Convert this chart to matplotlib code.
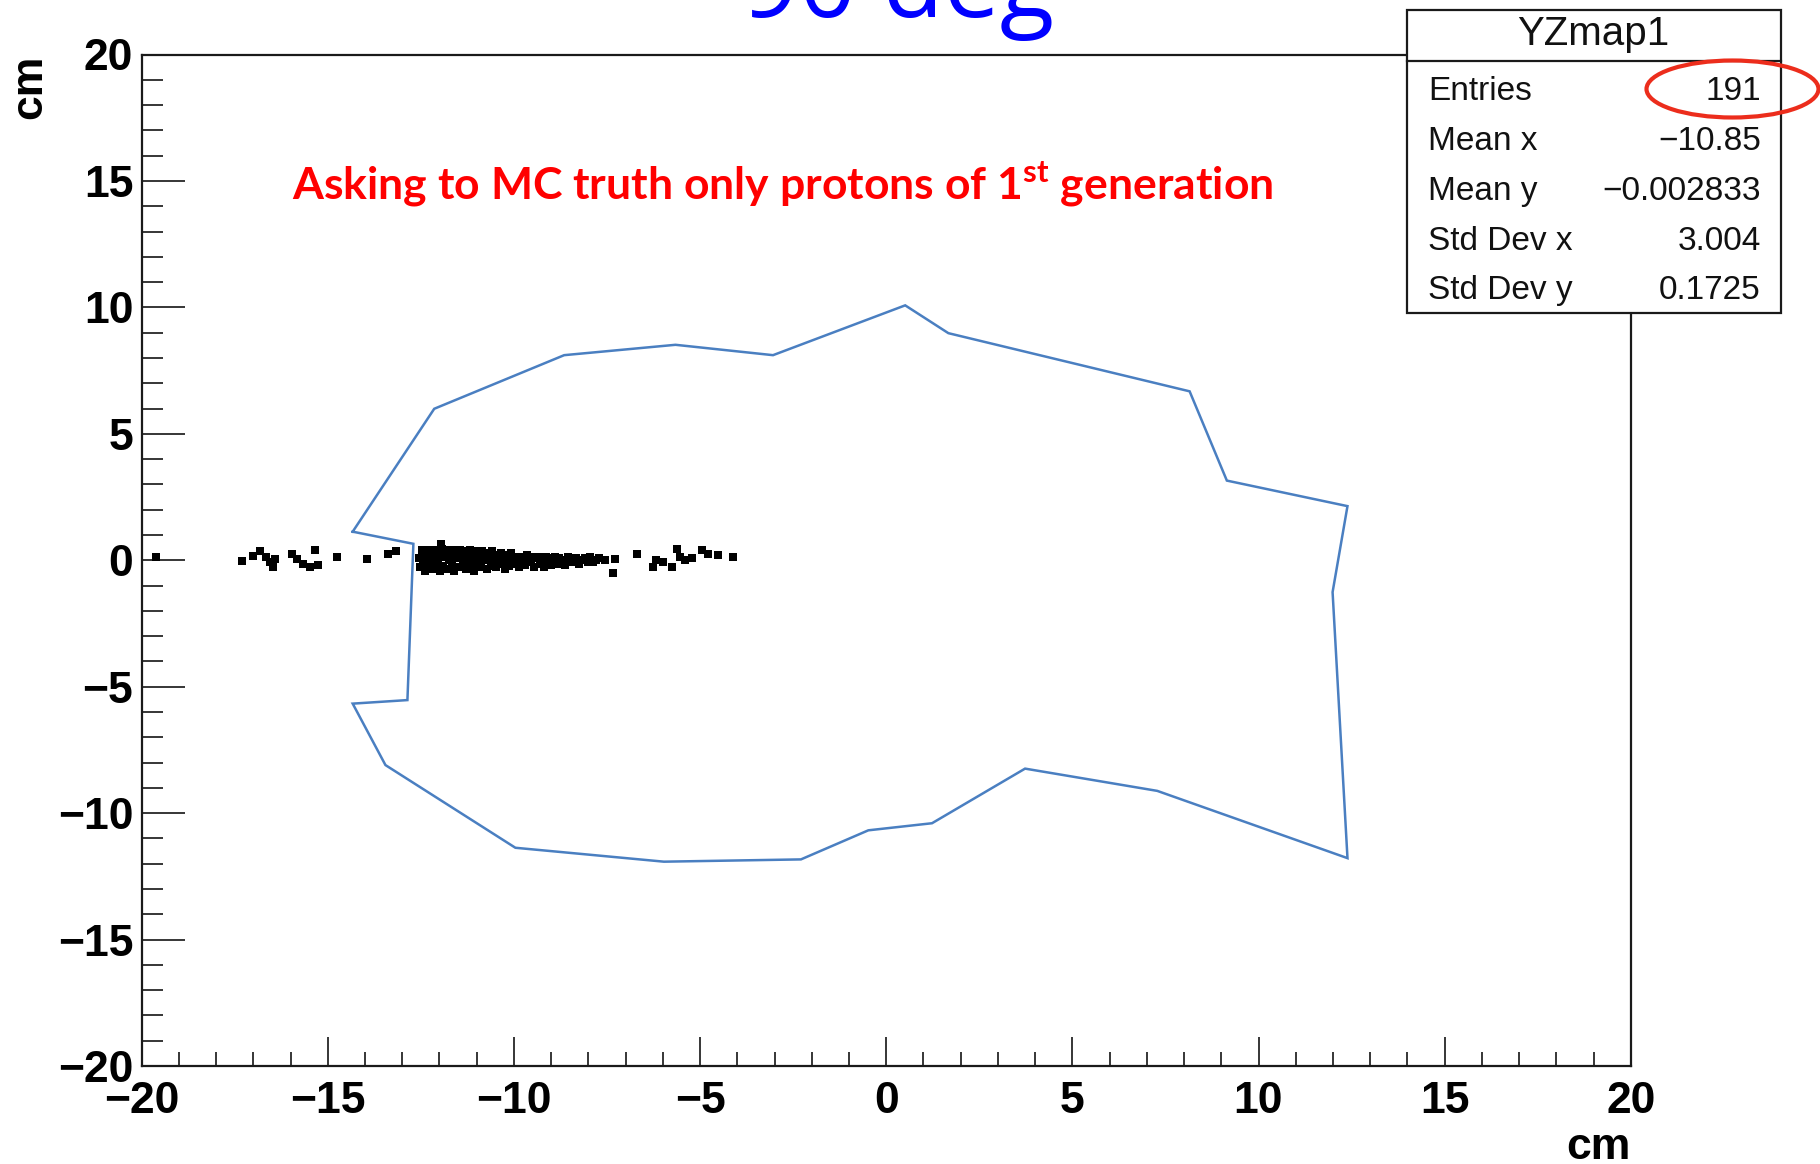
"""YZ 平面质子击中点分布，叠加探测器轮廓与统计信息框。"""
import matplotlib

matplotlib.use("Agg")
import matplotlib.pyplot as plt
from matplotlib.lines import Line2D
from matplotlib.patches import Ellipse, Rectangle
from matplotlib.ticker import MultipleLocator

plt.rcParams["mathtext.fontset"] = "custom"
plt.rcParams["mathtext.rm"] = "Lato:bold"
plt.rcParams["mathtext.bf"] = "Lato:bold"
plt.rcParams["mathtext.it"] = "Lato:bold"

FIG_W, FIG_H = 1820, 1164

# 左侧稀疏击中点 (cm)
left_x = [-19.61, -17.31, -17.00, -16.82, -16.66, -16.55, -16.46, -16.42, -15.97,
          -15.83, -15.66, -15.48, -15.34, -15.25, -14.76, -13.95, -13.37, -13.17]
left_y = [0.13, -0.04, 0.17, 0.35, 0.13, -0.07, -0.27, 0.06, 0.26,
          0.06, -0.13, -0.27, 0.39, -0.20, 0.13, 0.04, 0.26, 0.35]

# 中间密集区
cluster_x = [
    -12.55, -12.52, -12.48, -12.45, -12.42, -12.40, -12.37, -12.33, -12.30, -12.28,
    -12.25, -12.20, -12.18, -12.15, -12.10, -12.07, -12.03, -11.98, -11.96, -11.93,
    -11.90, -11.85, -11.82, -11.78, -11.75, -11.70, -11.66, -11.63, -11.60, -11.55,
    -11.52, -11.48, -11.45, -11.40, -11.37, -11.33, -11.30, -11.25, -11.22, -11.18,
    -11.15, -11.10, -11.07, -11.03, -11.00, -10.95, -10.92, -10.88, -10.85, -10.80,
    -10.77, -10.73, -10.70, -10.65, -10.62, -10.58, -10.55, -10.50, -10.47, -10.43,
    -10.40, -10.35, -10.32, -10.28, -10.25, -10.20, -10.15, -10.12, -10.08, -10.03,
    -10.00, -9.95, -9.90, -9.85, -9.80, -9.76, -9.70, -9.65, -9.60, -9.55,
    -9.50, -9.45, -9.40, -9.35, -9.30, -9.25, -9.20, -9.15, -9.10, -9.05,
    -9.00, -8.95, -8.90, -8.85, -8.80, -8.75, -8.70, -8.62, -8.55, -8.48,
    -8.40, -8.33, -8.25, -8.18, -8.10, -8.02, -7.95, -7.88, -7.80, -7.72,
]
cluster_y = [
    0.07, -0.28, 0.42, -0.07, 0.21, -0.42, 0.14, 0.42, -0.21, 0.00,
    0.35, -0.35, 0.14, 0.42, -0.14, 0.35, 0.07, -0.42, 0.65, 0.45,
    -0.21, 0.14, 0.42, -0.35, 0.00, 0.28, -0.14, 0.42, -0.42, 0.21,
    0.07, -0.28, 0.42, 0.14, -0.07, 0.35, -0.35, 0.21, 0.00, 0.42,
    -0.21, 0.28, -0.42, 0.07, 0.35, -0.14, 0.21, -0.28, 0.35, 0.00,
    0.14, -0.35, 0.28, 0.07, -0.21, 0.35, -0.07, 0.21, -0.28, 0.14,
    0.00, 0.28, -0.14, 0.21, -0.35, 0.07, 0.14, -0.21, 0.28, 0.00,
    -0.13, 0.13, 0.00, -0.26, 0.13, 0.07, -0.20, 0.20, 0.00, -0.07,
    0.13, -0.26, 0.07, 0.13, -0.13, 0.00, -0.26, 0.13, -0.07, 0.07,
    -0.20, 0.00, 0.13, -0.13, 0.07, -0.07, 0.00, -0.20, 0.13, 0.07,
    -0.07, 0.07, -0.13, 0.00, 0.07, -0.07, 0.13, -0.07, 0.00, 0.07,
]

# 右侧稀疏击中点
right_x = [-7.55, -7.33, -7.28, -6.70, -6.26, -6.17, -5.99, -5.76,
           -5.63, -5.54, -5.40, -5.22, -4.96, -4.78, -4.51, -4.11]
right_y = [0.00, -0.49, 0.04, 0.26, -0.27, 0.00, -0.07, -0.27,
           0.46, 0.13, 0.00, 0.09, 0.39, 0.26, 0.19, 0.13]

# 探测器截面轮廓 (cm)
outline_x = [-14.33, -12.70, -12.86, -14.33, -13.45, -9.96, -5.97, -2.29, -0.48, 1.23,
             3.73, 7.28, 12.39, 11.99, 12.39, 9.15, 8.15, 1.67, 0.51, -3.04,
             -5.66, -8.65, -12.14, -14.33]
outline_y = [1.13, 0.65, -5.53, -5.67, -8.10, -11.37, -11.92, -11.83, -10.68, -10.40,
             -8.24, -9.12, -11.78, -1.26, 2.14, 3.15, 6.68, 8.98, 10.08, 8.11,
             8.52, 8.11, 5.99, 1.13]

hist_name = "YZmap1"
stat_names = ["Entries", "Mean x", "Mean y", "Std Dev x", "Std Dev y"]
stat_values = ["191", "\u221210.85", "\u22120.002833", "3.004", "0.1725"]

title_text = "90 deg"
note_text = r"Asking to MC truth only protons of 1$^{\mathrm{st}}$ generation"


def fx(px):
    return px / FIG_W


def fy(py):
    return 1.0 - py / FIG_H


fig = plt.figure(figsize=(FIG_W / 100, FIG_H / 100), dpi=100)
ax = fig.add_axes([fx(141.6), fy(1066.0), fx(1630.8) - fx(141.6), fy(54.5) - fy(1066.0)])

pts_x = left_x + cluster_x + right_x
pts_y = left_y + cluster_y + right_y
ax.scatter(pts_x, pts_y, marker="s", s=32, c="black", linewidths=0, zorder=3)
ax.plot(outline_x, outline_y, color="#4a7fc1", lw=1.8, zorder=2,
        solid_joinstyle="miter")

ax.set_xlim(-20, 20)
ax.set_ylim(-20, 20)
ax.xaxis.set_major_locator(MultipleLocator(5))
ax.xaxis.set_minor_locator(MultipleLocator(1))
ax.yaxis.set_major_locator(MultipleLocator(5))
ax.yaxis.set_minor_locator(MultipleLocator(1))
ax.tick_params(axis="both", which="both", direction="in", color="black", width=1.1,
               top=False, right=False)
ax.tick_params(axis="x", which="major", length=21, pad=11)
ax.tick_params(axis="x", which="minor", length=10)
ax.tick_params(axis="y", which="major", length=31, pad=6)
ax.tick_params(axis="y", which="minor", length=15)
for lab in ax.get_xticklabels() + ax.get_yticklabels():
    lab.set_fontfamily("Liberation Sans")
    lab.set_fontweight("bold")
    lab.set_fontsize(32)
for sp in ax.spines.values():
    sp.set_linewidth(1.6)
    sp.set_color("#1a1a1a")

ax.set_xlabel("cm", loc="right", fontfamily="Liberation Sans", fontweight="bold", fontsize=32)
ax.set_ylabel("cm", loc="top", fontfamily="Liberation Sans", fontweight="bold", fontsize=32)
ax.xaxis.set_label_coords(1.0, -0.0605)
ax.yaxis.set_label_coords(-0.0613, 1.0)

# 标题 (顶部被裁切)
fig.text(fx(741.7), fy(17.0), title_text, color="#0000ff", fontfamily="Open Sans",
         fontsize=72, ha="left", va="baseline")

ax.text(-15.95, 14.26, note_text, color="#ff0000", fontfamily="Lato", fontweight="bold",
        fontsize=32, ha="left", va="baseline", zorder=4)

# 统计框
box_l, box_r, box_t, box_b, head_b = 1406.7, 1780.7, 10.0, 313.3, 60.7
fig.add_artist(Rectangle((fx(box_l), fy(box_b)), fx(box_r) - fx(box_l), fy(box_t) - fy(box_b),
                         transform=fig.transFigure, facecolor="white", edgecolor="#1a1a1a",
                         lw=1.6, zorder=5))
fig.add_artist(Line2D([fx(box_l), fx(box_r)], [fy(head_b), fy(head_b)],
                      transform=fig.transFigure, color="#1a1a1a", lw=1.6, zorder=6))
fig.text(fx((box_l + box_r) / 2), fy(45.0), hist_name, fontfamily="Liberation Sans",
         fontsize=29, ha="center", va="baseline", color="#111111", zorder=7)
row_base = [100.0, 150.0, 200.0, 250.0, 299.0]
for name, val, yb in zip(stat_names, stat_values, row_base):
    fig.text(fx(1428.0), fy(yb), name, fontfamily="Liberation Sans", fontsize=24,
             ha="left", va="baseline", color="#111111", zorder=7)
    fig.text(fx(1761.0), fy(yb), val, fontfamily="Liberation Sans", fontsize=24,
             ha="right", va="baseline", color="#111111", zorder=7)

fig.add_artist(Ellipse((fx(1732.5), fy(89.0)), fx(172.0), 57.0 / FIG_H,
                       transform=fig.transFigure, facecolor="none", edgecolor="#ec2d1c",
                       lw=3.0, zorder=8))

fig.savefig("out.png", dpi=100)
